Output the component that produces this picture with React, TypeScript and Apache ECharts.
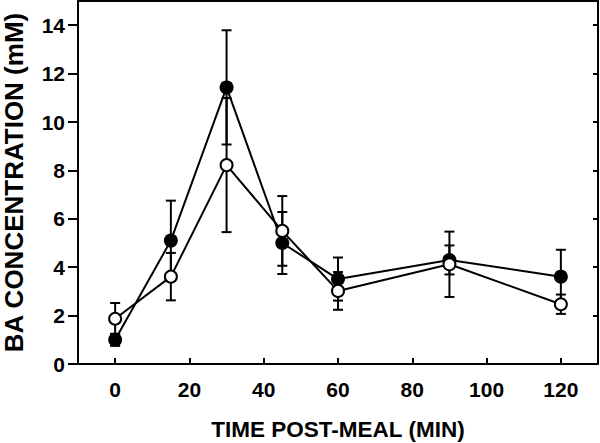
import React, { useEffect, useRef } from "react";
import * as echarts from "echarts";

const times = [0, 15, 30, 45, 60, 90, 120];
const filledMean = [1.0, 5.1, 11.43, 5.0, 3.51, 4.3, 3.61];
const filledErr = [0.25, 1.65, 2.36, 1.28, 0.89, 0.6, 1.11];
const openMean = [1.87, 3.61, 8.22, 5.5, 3.02, 4.12, 2.47];
const openErr = [0.65, 0.98, 2.77, 1.44, 0.78, 1.35, 0.4];
const xTicks = [0, 20, 40, 60, 80, 100, 120];
const yTicks = [0, 2, 4, 6, 8, 10, 12, 14];
const xTitle = "TIME POST-MEAL (MIN)";
const yTitle = "BA CONCENTRATION (mM)";

const FONT = '"Liberation Sans", Arial, Helvetica, sans-serif';

function errorSeries(name: string, means: number[], errs: number[], z: number) {
  return {
    type: "custom",
    name,
    z,
    silent: true,
    data: times.map((t, i) => [t, means[i] - errs[i], means[i] + errs[i]]),
    encode: { x: 0, y: [1, 2] },
    renderItem: (params: any, api: any) => {
      const x = api.value(0);
      const lo = api.coord([x, api.value(1)]);
      const hi = api.coord([x, api.value(2)]);
      const hw = 5;
      const style = { stroke: "#000", lineWidth: 2 };
      return {
        type: "group",
        children: [
          { type: "line", shape: { x1: lo[0], y1: lo[1], x2: hi[0], y2: hi[1] }, style },
          { type: "line", shape: { x1: lo[0] - hw, y1: lo[1], x2: lo[0] + hw, y2: lo[1] }, style },
          { type: "line", shape: { x1: hi[0] - hw, y1: hi[1], x2: hi[0] + hw, y2: hi[1] }, style },
        ],
      };
    },
  };
}

export default function App() {
  const ref = useRef<HTMLDivElement>(null);
  useEffect(() => {
    document.body.style.margin = "0";
    if (!ref.current) return;
    const chart = echarts.init(ref.current, undefined, { renderer: "svg" });
    const axisLine = { show: true, onZero: false, lineStyle: { color: "#000", width: 2 } };
    const labelStyle = { color: "#000", fontSize: 21, fontWeight: "bold", fontFamily: FONT };
    chart.setOption({
      animation: false,
      backgroundColor: "#fff",
      grid: { left: 78, right: 2, top: 1, bottom: 79, containLabel: false, outerBoundsMode: "none" },
      xAxis: [
        {
          type: "value",
          min: -10,
          max: 130,
          splitNumber: 7,
          position: "bottom",
          axisLine,
          axisTick: { show: true, inside: true, length: 6, lineStyle: { color: "#000", width: 2 }, customValues: xTicks },
          axisLabel: { ...labelStyle, margin: 15, customValues: xTicks },
          splitLine: { show: false },
          name: xTitle,
          nameLocation: "middle",
          nameGap: 54,
          nameTextStyle: { color: "#000", fontSize: 22.5, fontWeight: "bold", fontFamily: FONT },
        },
        {
          type: "value",
          min: -10,
          max: 130,
          position: "top",
          axisLine,
          axisTick: { show: false },
          axisLabel: { show: false },
          splitLine: { show: false },
        },
      ],
      yAxis: [
        {
          type: "value",
          min: 0,
          max: 15,
          position: "left",
          axisLine,
          axisTick: { show: true, inside: false, length: 10, lineStyle: { color: "#000", width: 2 }, customValues: yTicks },
          axisLabel: { ...labelStyle, margin: 13, customValues: yTicks },
          splitLine: { show: false },
          name: yTitle,
          nameLocation: "middle",
          nameGap: 51,
          nameTextStyle: { color: "#000", fontSize: 26, fontWeight: "bold", fontFamily: FONT },
        },
        {
          type: "value",
          min: 0,
          max: 15,
          position: "right",
          axisLine,
          axisTick: { show: true, inside: true, length: 5, lineStyle: { color: "#000", width: 2 }, customValues: yTicks },
          axisLabel: { show: false },
          splitLine: { show: false },
        },
      ],
      series: [
        errorSeries("filledErr", filledMean, filledErr, 1),
        errorSeries("openErr", openMean, openErr, 1),
        {
          type: "line",
          name: "filled",
          z: 3,
          data: times.map((t, i) => [t, filledMean[i]]),
          symbol: "circle",
          symbolSize: 14,
          showAllSymbol: true,
          lineStyle: { color: "#000", width: 2 },
          itemStyle: { color: "#000", borderColor: "#000", borderWidth: 0 },
          emphasis: { disabled: true },
          silent: true,
        },
        {
          type: "line",
          name: "open",
          z: 4,
          data: times.map((t, i) => [t, openMean[i]]),
          symbol: "circle",
          symbolSize: 12,
          showAllSymbol: true,
          lineStyle: { color: "#000", width: 2 },
          itemStyle: { color: "#fff", borderColor: "#000", borderWidth: 2 },
          emphasis: { disabled: true },
          silent: true,
        },
      ],
    });
    return () => chart.dispose();
  }, []);
  return <div ref={ref} style={{ width: 600, height: 443 }} />;
}
